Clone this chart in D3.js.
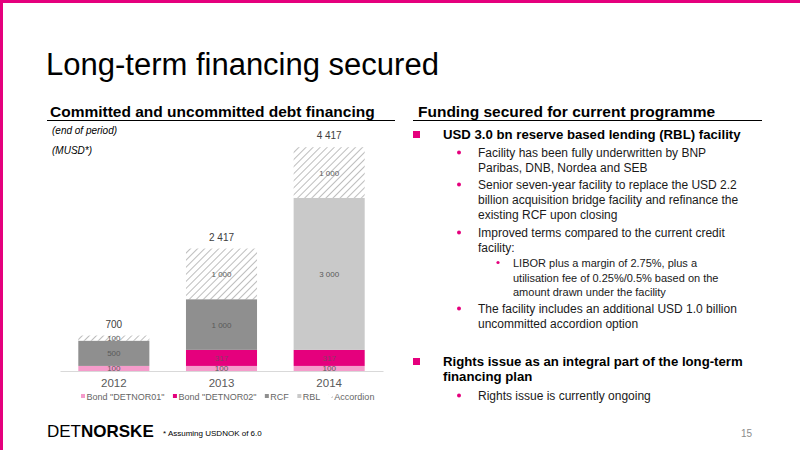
<!DOCTYPE html>
<html>
<head>
<meta charset="utf-8">
<script src="https://cdn.jsdelivr.net/npm/d3@7"></script>
<style>
  body { margin: 0; background: #fff; }
  svg { display: block; font-family: "Liberation Sans", Arial, sans-serif; }
</style>
</head>
<body>
<div id="slide"></div>
<script>
// chart values
const years = ['2012', '2013', '2014'];
const bond01 = [100, 100, 100];
const bond02 = [0, 317, 317];
const rcf = [500, 1000, 0];
const rbl = [0, 0, 3000];
const accordion = [100, 1000, 1000];
const seriesNames = ['Bond "DETNOR01"', 'Bond "DETNOR02"', 'RCF', 'RBL', 'Accordion'];

const width = 800;
const height = 450;
const pink = '#e5007d';

const svg = d3.select('#slide')
    .append('svg')
    .attr('width', width)
    .attr('height', height);

const defs = svg.append('defs');
const hatch = defs.append('pattern')
    .attr('id', 'hatch')
    .attr('patternUnits', 'userSpaceOnUse')
    .attr('width', 5)
    .attr('height', 5)
    .attr('patternTransform', 'rotate(45)');
hatch.append('rect').attr('width', 5).attr('height', 5).attr('fill', '#fff');
hatch.append('line')
    .attr('x1', 0).attr('y1', 0).attr('x2', 0).attr('y2', 5)
    .attr('stroke', '#9a9a9a')
    .attr('stroke-width', 1.3);

// slide frame
svg.append('rect').attr('x', 0).attr('y', 0).attr('width', width).attr('height', 3).attr('fill', pink);
svg.append('rect').attr('x', 0).attr('y', 0).attr('width', 3).attr('height', height).attr('fill', pink);

svg.append('text')
    .attr('x', 46).attr('y', 75)
    .style('font-size', '31px')
    .attr('fill', '#000')
    .text('Long-term financing secured');

// section headers
const headers = [
    { text: 'Committed and uncommitted debt financing', x: 50, x1: 47, x2: 395 },
    { text: 'Funding secured for current programme', x: 418, x1: 413, x2: 762 }
];
headers.forEach(h => {
    svg.append('text')
        .attr('x', h.x).attr('y', 117)
        .style('font-size', '15.5px')
        .style('font-weight', 'bold')
        .text(h.text);
    svg.append('line')
        .attr('x1', h.x1).attr('x2', h.x2)
        .attr('y1', 120.5).attr('y2', 120.5)
        .attr('stroke', '#000').attr('stroke-width', 1);
});

svg.append('text').attr('x', 52).attr('y', 134)
    .style('font-size', '10px').style('font-style', 'italic').text('(end of period)');
svg.append('text').attr('x', 52).attr('y', 154)
    .style('font-size', '10px').style('font-style', 'italic').text('(MUSD*)');

// ---------- stacked bars ----------
const rows = years.map((y, i) => ({
    year: y,
    bond01: bond01[i], bond02: bond02[i], rcf: rcf[i], rbl: rbl[i], accordion: accordion[i]
}));
const keys = ['bond01', 'bond02', 'rcf', 'rbl', 'accordion'];
const fills = {
    bond01: '#f59ccb',
    bond02: pink,
    rcf: '#8f8f8f',
    rbl: '#c9c9c9',
    accordion: 'url(#hatch)'
};

const x = d3.scaleBand()
    .domain(years)
    .range([60, 383])
    .paddingInner(0.34)
    .paddingOuter(0.17);

const y = d3.scaleLinear()
    .domain([0, 4500])
    .range([371, 143]);

const stacked = d3.stack().keys(keys)(rows);

const fmt = v => d3.format(',')(v).replace(/,/g, ' ');

const layer = svg.append('g')
    .selectAll('g')
    .data(stacked)
    .enter()
    .append('g')
    .attr('fill', d => fills[d.key]);

layer.selectAll('rect')
    .data(d => d)
    .enter()
    .append('rect')
    .attr('x', d => x(d.data.year))
    .attr('width', x.bandwidth())
    .attr('y', d => y(d[1]))
    .attr('height', d => y(d[0]) - y(d[1]));

// segment labels
stacked.forEach(s => {
    svg.append('g')
        .selectAll('text')
        .data(s.filter(d => d[1] - d[0] > 0))
        .enter()
        .append('text')
        .attr('x', d => x(d.data.year) + x.bandwidth() / 2)
        .attr('y', d => (y(d[0]) + y(d[1])) / 2 + 3)
        .attr('text-anchor', 'middle')
        .style('font-size', '8px')
        .attr('fill', s.key === 'bond02' ? '#8a3a66' : '#5a5a5a')
        .text(d => fmt(d[1] - d[0]));
});

// totals
svg.append('g')
    .selectAll('text')
    .data(rows)
    .enter()
    .append('text')
    .attr('x', d => x(d.year) + x.bandwidth() / 2)
    .attr('y', d => y(d3.sum(keys, k => d[k])) - 8)
    .attr('text-anchor', 'middle')
    .style('font-size', '10px')
    .attr('fill', '#404040')
    .text(d => fmt(d3.sum(keys, k => d[k])));

// x axis
const xAxis = svg.append('g')
    .attr('transform', `translate(0,${y(0)})`)
    .call(d3.axisBottom(x).tickSize(0).tickPadding(8));
xAxis.select('.domain').attr('stroke', '#d9d9d9');
xAxis.selectAll('text')
    .style('font-size', '11.5px')
    .style('font-family', '"Liberation Sans", Arial, sans-serif')
    .attr('fill', '#595959');

// legend
const legend = svg.append('g').attr('transform', 'translate(81,400)');
let lx = 0;
seriesNames.forEach((name, i) => {
    const item = legend.append('g').attr('transform', `translate(${lx},0)`);
    item.append('rect')
        .attr('x', 0).attr('y', -6)
        .attr('width', 4).attr('height', 4)
        .attr('fill', fills[keys[i]]);
    const t = item.append('text')
        .attr('x', 5.5).attr('y', 0)
        .style('font-size', '9px')
        .attr('fill', '#666')
        .text(name);
    lx += 5.5 + t.node().getComputedTextLength() + 8.5;
});

// ---------- bullet text ----------
const bulletLines = [
    { lvl: 0, y: 139, text: 'USD 3.0 bn reserve based lending (RBL) facility', mark: true },
    { lvl: 1, y: 157, text: 'Facility has been fully underwritten by BNP', mark: true },
    { lvl: 1, y: 172, text: 'Paribas, DNB, Nordea and SEB' },
    { lvl: 1, y: 189, text: 'Senior seven-year facility to replace the USD 2.2', mark: true },
    { lvl: 1, y: 204, text: 'billion acquisition bridge facility and refinance the' },
    { lvl: 1, y: 219, text: 'existing RCF upon closing' },
    { lvl: 1, y: 237, text: 'Improved terms compared to the current credit', mark: true },
    { lvl: 1, y: 252, text: 'facility:' },
    { lvl: 2, y: 267, text: 'LIBOR plus a margin of 2.75%, plus a', mark: true },
    { lvl: 2, y: 282, text: 'utilisation fee of 0.25%/0.5% based on the' },
    { lvl: 2, y: 296, text: 'amount drawn under the facility' },
    { lvl: 1, y: 313, text: 'The facility includes an additional USD 1.0 billion', mark: true },
    { lvl: 1, y: 328, text: 'uncommitted accordion option' },
    { lvl: 0, y: 366, text: 'Rights issue as an integral part of the long-term', mark: true },
    { lvl: 0, y: 381, text: 'financing plan' },
    { lvl: 1, y: 400, text: 'Rights issue is currently ongoing', mark: true }
];
const levels = [
    { tx: 443, mx: 413, size: 13.2, weight: 'bold' },
    { tx: 478, mx: 457, size: 12, weight: 'normal' },
    { tx: 513, mx: 496, size: 11, weight: 'normal' }
];
bulletLines.forEach(b => {
    const L = levels[b.lvl];
    svg.append('text')
        .attr('x', L.tx).attr('y', b.y)
        .style('font-size', L.size + 'px')
        .style('font-weight', L.weight)
        .attr('fill', b.lvl === 0 ? '#000' : '#1a1a1a')
        .text(b.text);
    if (b.mark) {
        if (b.lvl === 0) {
            svg.append('rect')
                .attr('x', L.mx).attr('y', b.y - 8)
                .attr('width', 7).attr('height', 7)
                .attr('fill', pink);
        } else {
            svg.append('circle')
                .attr('cx', L.mx + 2).attr('cy', b.y - 4.5)
                .attr('r', b.lvl === 1 ? 2 : 1.6)
                .attr('fill', pink);
        }
    }
});

// footer
const logo = svg.append('text')
    .attr('x', 47).attr('y', 437)
    .style('font-size', '17px')
    .attr('fill', '#000');
logo.append('tspan').text('DET');
logo.append('tspan').style('font-weight', 'bold').text('NORSKE');

svg.append('text')
    .attr('x', 163).attr('y', 436)
    .style('font-size', '8px')
    .text('* Assuming USDNOK of 6.0');

svg.append('text')
    .attr('x', 741).attr('y', 437)
    .style('font-size', '10px')
    .attr('fill', '#8c8c8c')
    .text('15');
</script>
</body>
</html>
